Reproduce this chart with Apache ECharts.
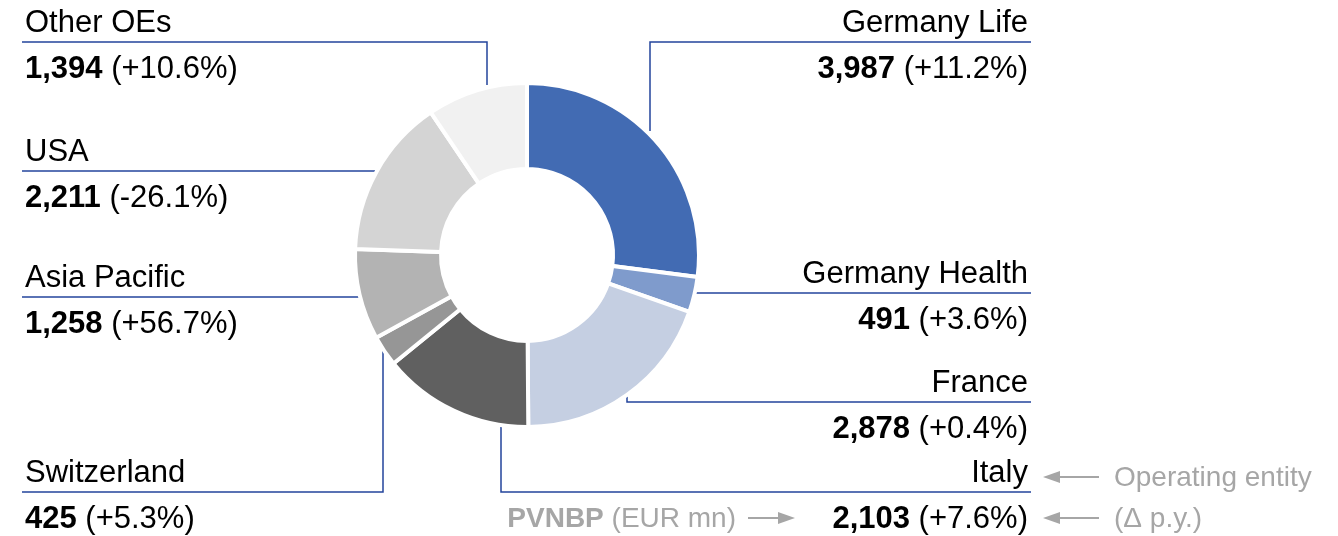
<!DOCTYPE html>
<html>
<head>
<meta charset="utf-8">
<script src="https://cdn.jsdelivr.net/npm/echarts@6/dist/echarts.min.js"></script>
<style>
  html, body { margin: 0; padding: 0; background: #fff; }
  #chart { width: 1338px; height: 536px; }
</style>
</head>
<body>
<div id="chart"></div>
<script>
/* PVNBP by operating entity: donut + boxed labels with leader lines */
const entities = ['Germany Life', 'Germany Health', 'France', 'Italy', 'Switzerland', 'Asia Pacific', 'USA', 'Other OEs'];
const pvnbp    = [3987, 491, 2878, 2103, 425, 1258, 2211, 1394];
const deltaPy  = ['+11.2%', '+3.6%', '+0.4%', '+7.6%', '+5.3%', '+56.7%', '-26.1%', '+10.6%'];
const colors   = ['#426bb3', '#7f9bcc', '#c5cfe2', '#606060', '#969696', '#b3b3b3', '#d4d4d4', '#f1f1f1'];

const FONT = 'Liberation Sans, Arial, sans-serif';
const FS = 31;
const LINE = '#23449c';
const GREY = '#a6a6a6';
const CX = 527, CY = 255;

// label frames: side, y of underline, leader path from the ring out to the underline
const frames = [
  { side: 'right', y: 42,  path: [[650, 131], [650, 42]] },
  { side: 'right', y: 293, path: [[696, 293]] },
  { side: 'right', y: 402, path: [[627, 394], [627, 402]] },
  { side: 'right', y: 492, path: [[501, 426], [501, 492]] },
  { side: 'left',  y: 492, path: [[383, 350], [383, 492]] },
  { side: 'left',  y: 297, path: [[359, 297]] },
  { side: 'left',  y: 171, path: [[375, 171]] },
  { side: 'left',  y: 42,  path: [[487, 85], [487, 42]] }
];
const L_EDGE = 22, R_EDGE = 1031;

const fmt = v => v.toLocaleString('en-US');

const graphics = [];
entities.forEach((name, i) => {
  const f = frames[i];
  const right = f.side === 'right';
  const end = right ? R_EDGE : L_EDGE;
  graphics.push({
    type: 'polyline', silent: true,
    shape: { points: f.path.concat([[end, f.y]]) },
    style: { stroke: LINE, lineWidth: 1.5, fill: null }
  });
  const tx = right ? R_EDGE - 3 : L_EDGE + 3;
  const align = right ? 'right' : 'left';
  graphics.push({
    type: 'text', silent: true, x: tx, y: f.y - 19,
    style: { text: name, font: FS + 'px ' + FONT, fill: '#000', align: align, verticalAlign: 'middle' }
  });
  graphics.push({
    type: 'text', silent: true, x: tx, y: f.y + 27,
    style: {
      text: '{b|' + fmt(pvnbp[i]) + '} (' + deltaPy[i] + ')',
      font: FS + 'px ' + FONT, fill: '#000', align: align, verticalAlign: 'middle',
      rich: { b: { font: 'bold ' + FS + 'px ' + FONT, fill: '#000' } }
    }
  });
});

// explanation arrows
function arrow(x1, x2, y) {
  const dir = x2 > x1 ? 1 : -1;
  graphics.push({
    type: 'line', silent: true,
    shape: { x1: x1, y1: y, x2: x2 - dir * 12, y2: y },
    style: { stroke: GREY, lineWidth: 2 }
  });
  graphics.push({
    type: 'polygon', silent: true,
    shape: { points: [[x2, y], [x2 - dir * 17, y - 6], [x2 - dir * 17, y + 6]] },
    style: { fill: GREY }
  });
}
arrow(1099, 1043, 477);
arrow(1099, 1043, 518);
arrow(748, 795, 518);
graphics.push({
  type: 'text', silent: true, x: 1114, y: 478,
  style: { text: 'Operating entity', font: '28px ' + FONT, fill: GREY, verticalAlign: 'middle' }
});
graphics.push({
  type: 'text', silent: true, x: 1114, y: 519,
  style: { text: '(Δ p.y.)', font: '28px ' + FONT, fill: GREY, verticalAlign: 'middle' }
});
graphics.push({
  type: 'text', silent: true, x: 736, y: 519,
  style: {
    text: '{b|PVNBP} (EUR mn)', font: '28px ' + FONT, fill: GREY, align: 'right', verticalAlign: 'middle',
    rich: { b: { font: 'bold 28px ' + FONT, fill: GREY } }
  }
});

const chart = echarts.init(document.getElementById('chart'));
chart.setOption({
  animation: false,
  backgroundColor: '#fff',
  color: colors,
  series: [{
    type: 'pie',
    center: [CX, CY],
    radius: [86, 172],
    startAngle: 90,
    clockwise: true,
    silent: true,
    label: { show: false },
    labelLine: { show: false },
    itemStyle: { borderColor: '#fff', borderWidth: 4 },
    data: entities.map((n, i) => ({ name: n, value: pvnbp[i] }))
  }],
  graphic: graphics
});
</script>
</body>
</html>
